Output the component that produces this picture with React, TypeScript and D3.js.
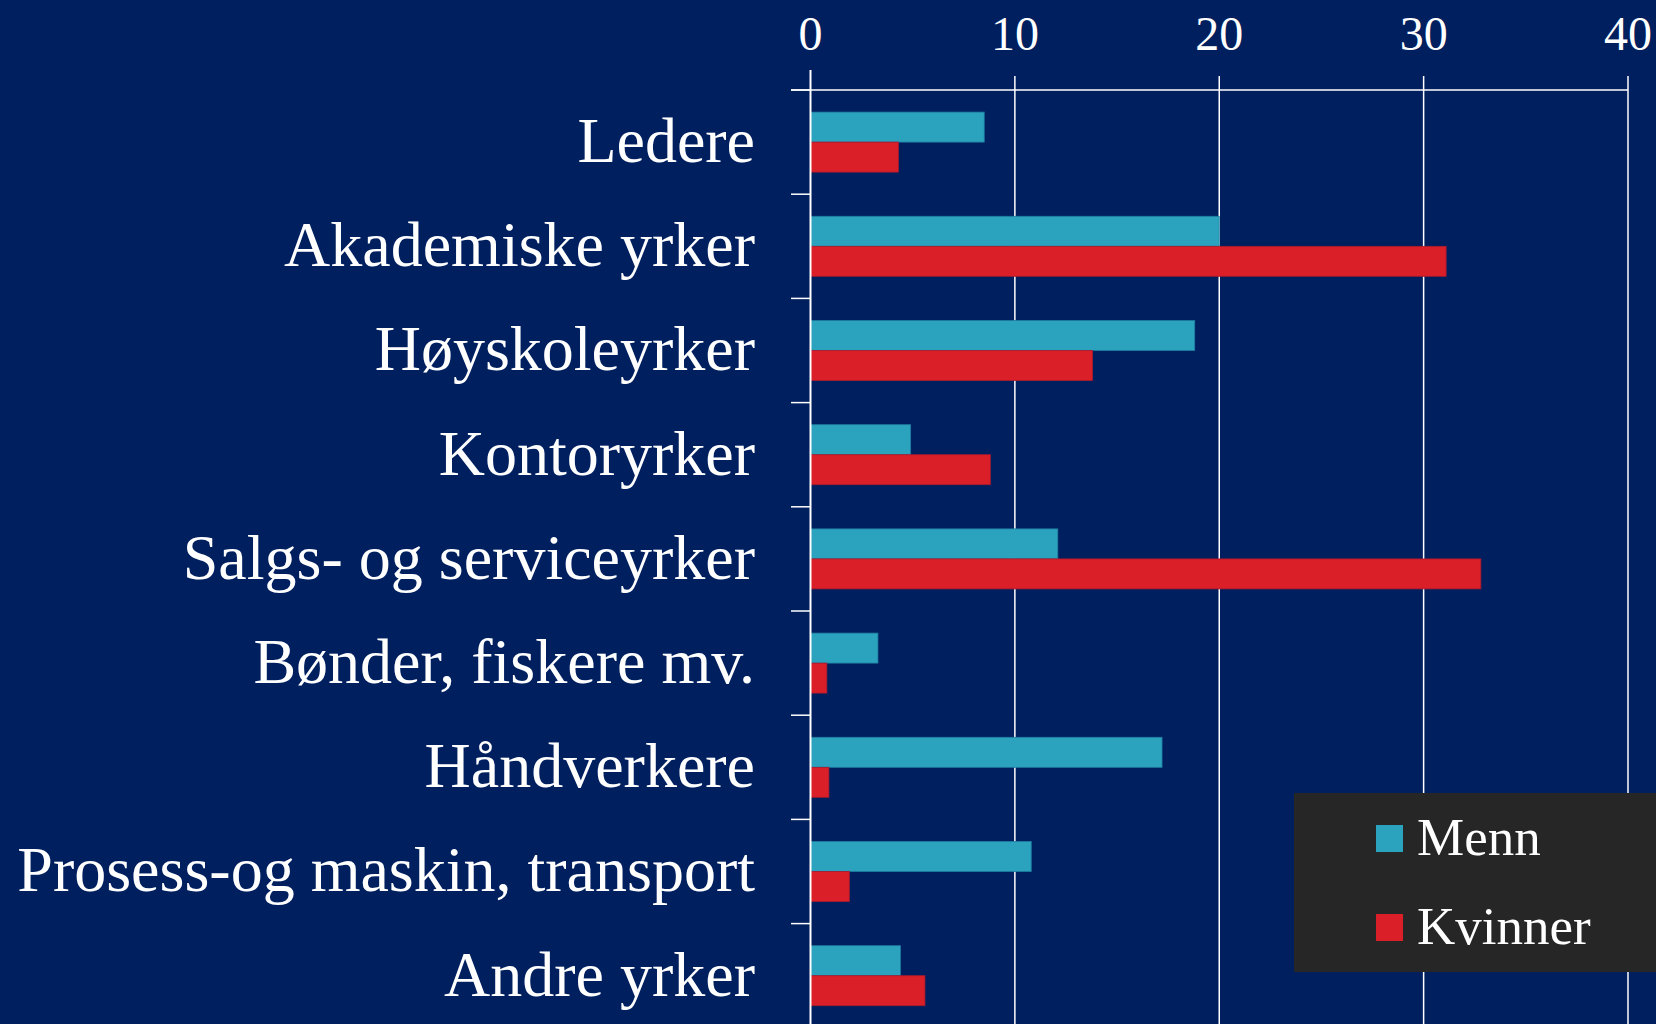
import React, { useEffect, useRef } from "react";
import * as d3 from "d3";

const categories = [
  "Ledere",
  "Akademiske yrker",
  "Høyskoleyrker",
  "Kontoryrker",
  "Salgs- og serviceyrker",
  "Bønder, fiskere mv.",
  "Håndverkere",
  "Prosess-og maskin, transport",
  "Andre yrker",
];
const seriesNames = ["Menn", "Kvinner"];
const menn = [8.5, 20.0, 18.8, 4.9, 12.1, 3.3, 17.2, 10.8, 4.4];
const kvinner = [4.3, 31.1, 13.8, 8.8, 32.8, 0.8, 0.9, 1.9, 5.6];
const xTicks = [0, 10, 20, 30, 40];
const colors = ["#2BA3BF", "#DA1F28"];
const strokes = ["#1F7DA0", "#A81C2E"];

const W = 1656;
const H = 1024;
const BG = "#001F5F";
const FONT = '"Liberation Serif", "Times New Roman", serif';

export default function App() {
  const ref = useRef<SVGSVGElement>(null);

  useEffect(() => {
    const svg = d3.select(ref.current);
    svg.selectAll("*").remove();

    const x = d3.scaleLinear().domain([0, 40]).range([810.5, 1628]);
    const y = d3
      .scaleBand<string>()
      .domain(categories)
      .range([90, 90 + 9 * 104.2])
      .paddingInner(0.424)
      .paddingOuter(0.212);
    const ys = d3.scaleBand<string>().domain(seriesNames).range([0, y.bandwidth()]);
    const step = y.step();

    svg.append("rect").attr("width", W).attr("height", H).attr("fill", BG);

    // vertical gridlines
    svg
      .append("g")
      .selectAll("line")
      .data(xTicks.slice(1))
      .join("line")
      .attr("x1", (d) => x(d))
      .attr("x2", (d) => x(d))
      .attr("y1", 76)
      .attr("y2", H)
      .attr("stroke", "#FFFFFF")
      .attr("stroke-width", 1.5);

    // top line
    svg
      .append("line")
      .attr("x1", 791)
      .attr("x2", x(40))
      .attr("y1", 90)
      .attr("y2", 90)
      .attr("stroke", "#FFFFFF")
      .attr("stroke-width", 1.5);

    // tick labels on top
    svg
      .append("g")
      .selectAll("text")
      .data(xTicks)
      .join("text")
      .attr("x", (d) => x(d))
      .attr("y", 50)
      .attr("text-anchor", "middle")
      .attr("font-family", FONT)
      .attr("font-size", 48)
      .attr("fill", "#FFFFFF")
      .text((d) => String(d));

    // bars
    const groups = svg
      .append("g")
      .selectAll("g")
      .data(categories)
      .join("g")
      .attr("transform", (d) => `translate(0,${y(d)})`);

    groups
      .selectAll("rect")
      .data((_d, i) => [
        { s: "Menn", v: menn[i], k: 0 },
        { s: "Kvinner", v: kvinner[i], k: 1 },
      ])
      .join("rect")
      .attr("x", x(0))
      .attr("y", (d) => ys(d.s)!)
      .attr("width", (d) => x(d.v) - x(0))
      .attr("height", ys.bandwidth())
      .attr("fill", (d) => colors[d.k])
      .attr("stroke", (d) => strokes[d.k])
      .attr("stroke-width", 0.8);

    // left axis line
    svg
      .append("line")
      .attr("x1", x(0))
      .attr("x2", x(0))
      .attr("y1", 70)
      .attr("y2", H)
      .attr("stroke", "#FFFFFF")
      .attr("stroke-width", 2);

    // category ticks (band boundaries)
    svg
      .append("g")
      .selectAll("line")
      .data(categories)
      .join("line")
      .attr("x1", 791)
      .attr("x2", x(0))
      .attr("y1", (d) => y(d)! - y.paddingOuter() * step)
      .attr("y2", (d) => y(d)! - y.paddingOuter() * step)
      .attr("stroke", "#FFFFFF")
      .attr("stroke-width", 1.5);

    // category labels
    svg
      .append("g")
      .selectAll("text")
      .data(categories)
      .join("text")
      .attr("x", 755)
      .attr("y", (d) => y(d)! + y.bandwidth() / 2)
      .attr("dy", "0.31em")
      .attr("text-anchor", "end")
      .attr("font-family", FONT)
      .attr("font-size", 64)
      .attr("fill", "#FFFFFF")
      .text((d) => d);

    // legend
    const lg = svg.append("g");
    lg.append("rect")
      .attr("x", 1294)
      .attr("y", 793)
      .attr("width", W - 1294)
      .attr("height", 179)
      .attr("fill", "#262626");
    const items = lg
      .selectAll("g")
      .data(seriesNames)
      .join("g")
      .attr("transform", (_d, i) => `translate(1376,${825 + i * 89})`);
    items
      .append("rect")
      .attr("width", 27)
      .attr("height", 27)
      .attr("fill", (_d, i) => colors[i]);
    items
      .append("text")
      .attr("x", 41)
      .attr("y", 30)
      .attr("font-family", FONT)
      .attr("font-size", 53)
      .attr("fill", "#FFFFFF")
      .text((d) => d);
  }, []);

  return (
    <svg
      ref={ref}
      width={W}
      height={H}
      style={{ position: "fixed", left: 0, top: 0, display: "block" }}
    />
  );
}
